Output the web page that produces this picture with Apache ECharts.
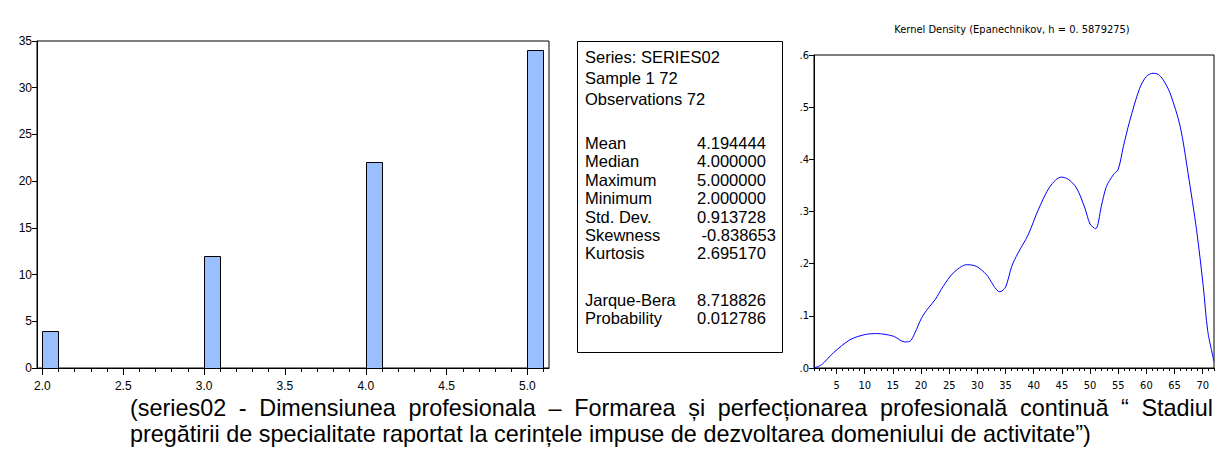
<!DOCTYPE html>
<html>
<head>
<meta charset="utf-8">
<script src="https://cdn.jsdelivr.net/npm/echarts@6/dist/echarts.min.js"></script>
<style>
html,body{margin:0;padding:0;background:#fff;}
#chart{width:1226px;height:454px;}
</style>
</head>
<body>
<div id="chart"></div>
<script>
// ---------- data ----------
const histBinStarts = [2.0, 3.0, 4.0, 5.0];
const histCounts = [4, 12, 22, 34];
const histBinWidth = 0.1;
const histXTicks = [2.0, 2.5, 3.0, 3.5, 4.0, 4.5, 5.0];
const histXMinorTicks = [2.0,2.1,2.2,2.3,2.4,2.5,2.6,2.7,2.8,2.9,3.0,3.1,3.2,3.3,3.4,3.5,3.6,3.7,3.8,3.9,4.0,4.1,4.2,4.3,4.4,4.5,4.6,4.7,4.8,4.9,5.0,5.1];

const statsHeader = ['Series: SERIES02', 'Sample 1 72', 'Observations 72'];
const statsNames = ['Mean', 'Median', 'Maximum', 'Minimum', 'Std. Dev.', 'Skewness', 'Kurtosis'];
const statsValues = ['4.194444', '4.000000', '5.000000', '2.000000', '0.913728', ' -0.838653', '2.695170'];
const testNames = ['Jarque-Bera', 'Probability'];
const testValues = ['8.718826', '0.012786'];

const densityTitle = 'Kernel Density (Epanechnikov, h = 0. 5879275)';
const densityX = [1, 2.36, 4.43, 7.38, 10.0, 12.1, 15.07, 17.1, 18.0, 18.9, 20.1, 21.3, 22.5, 23.9, 25.7, 28.1, 29.8, 31.6, 34.0, 35.0, 36.1, 37.2, 39.0, 40.8, 42.9, 44.9, 46.1, 47.6, 49.1, 50.0, 51.0, 52.0, 52.9, 54.1, 55.0, 55.9, 57.0, 58.8, 60.0, 61.2, 62.1, 63.0, 64.2, 66.0, 67.4, 68.9, 70.1, 70.9, 72];
const densityY = [0, 0.0064, 0.029, 0.054, 0.064, 0.066, 0.061, 0.050, 0.051, 0.067, 0.096, 0.115, 0.131, 0.156, 0.182, 0.198, 0.195, 0.179, 0.146, 0.155, 0.195, 0.220, 0.255, 0.303, 0.348, 0.366, 0.362, 0.345, 0.306, 0.276, 0.267, 0.310, 0.348, 0.370, 0.381, 0.424, 0.472, 0.536, 0.559, 0.565, 0.563, 0.552, 0.527, 0.463, 0.373, 0.265, 0.156, 0.070, 0.013];
const densityXTicks = [5, 10, 15, 20, 25, 30, 35, 40, 45, 50, 55, 60, 65, 70];
const densityXMinorTicks = [];
for (let i = 1; i <= 72; i++) densityXMinorTicks.push(i);

const captionLines = [
  '(series02 - Dimensiunea profesionala \u2013 Formarea \u0219i perfec\u021bionarea profesional\u0103 continu\u0103 \u201c Stadiul',
  'preg\u0103tirii de specialitate raportat la cerin\u021bele impuse de dezvoltarea domeniului de activitate\u201d)'
];

// ---------- chart ----------
const NARROW = '"Liberation Sans Narrow", "Arial Narrow", "DejaVu Sans Condensed", sans-serif';
const ARIAL = '"Liberation Sans", Arial, sans-serif';
const BOX_FONT = '16.5px ' + ARIAL;
const CAP_FONT = '23.4px ' + ARIAL;

const chart = echarts.init(document.getElementById('chart'), null, {renderer: 'svg'});

const graphics = [];
// stats box
graphics.push({type: 'rect', shape: {x: 577.5, y: 41.5, width: 205, height: 311}, style: {fill: '#fff', stroke: '#000', lineWidth: 1}, z: 10});
const boxTextLeft = 585, boxValLeft = 697;
statsHeader.forEach((t, i) => {
  graphics.push({type: 'text', x: boxTextLeft, y: 57 + i * 21, style: {text: t, font: BOX_FONT, fill: '#000', textVerticalAlign: 'middle'}, z: 11});
});
statsNames.forEach((t, i) => {
  graphics.push({type: 'text', x: boxTextLeft, y: 143 + i * 18.4, style: {text: t, font: BOX_FONT, fill: '#000', textVerticalAlign: 'middle'}, z: 11});
  graphics.push({type: 'text', x: boxValLeft, y: 143 + i * 18.4, style: {text: statsValues[i], font: BOX_FONT, fill: '#000', textVerticalAlign: 'middle'}, z: 11});
});
testNames.forEach((t, i) => {
  graphics.push({type: 'text', x: boxTextLeft, y: 300 + i * 18.4, style: {text: t, font: BOX_FONT, fill: '#000', textVerticalAlign: 'middle'}, z: 11});
  graphics.push({type: 'text', x: boxValLeft, y: 300 + i * 18.4, style: {text: testValues[i], font: BOX_FONT, fill: '#000', textVerticalAlign: 'middle'}, z: 11});
});
// density title
graphics.push({type: 'text', x: 1012, y: 29, style: {text: densityTitle, font: '11px ' + NARROW, fill: '#000', textAlign: 'center', textVerticalAlign: 'middle'}});

// caption: first line justified across the text block, second (last) line left-aligned
const capLeft = 130, capRight = 1213;
const measureCtx = document.createElement('canvas').getContext('2d');
measureCtx.font = CAP_FONT;
const words = captionLines[0].split(' ');
const wordW = words.map(w => measureCtx.measureText(w).width);
const gap = (capRight - capLeft - wordW.reduce((a, b) => a + b, 0)) / (words.length - 1);
let cx = capLeft;
words.forEach((w, i) => {
  graphics.push({type: 'text', x: cx, y: 408, style: {text: w, font: CAP_FONT, fill: '#000', textAlign: 'left', textVerticalAlign: 'middle'}});
  cx += wordW[i] + gap;
});
graphics.push({type: 'text', x: capLeft, y: 434, style: {text: captionLines[1], font: CAP_FONT, fill: '#000', textAlign: 'left', textVerticalAlign: 'middle'}});

const option = {
  animation: false,
  backgroundColor: '#fff',
  grid: [
    {left: 37, top: 41, width: 512, height: 327, show: true, borderColor: '#000', borderWidth: 1, backgroundColor: 'transparent'},
    {left: 814, top: 55, width: 400, height: 313, show: true, borderColor: '#000', borderWidth: 1, backgroundColor: 'transparent'}
  ],
  xAxis: [
    {gridIndex: 0, type: 'value', min: 1.9667, max: 5.1333,
      axisLine: {show: true, lineStyle: {color: '#000', width: 1}},
      axisTick: {show: true, length: 7, lineStyle: {color: '#000'}, customValues: histXTicks},
      axisLabel: {customValues: histXTicks, formatter: v => v.toFixed(1), color: '#000', fontSize: 12, fontFamily: ARIAL, margin: 12},
      splitLine: {show: false}},
    {gridIndex: 0, type: 'value', min: 1.9667, max: 5.1333, position: 'bottom',
      axisLine: {show: false},
      axisTick: {show: true, length: 4, lineStyle: {color: '#000'}, customValues: histXMinorTicks},
      axisLabel: {show: false}, splitLine: {show: false}},
    {gridIndex: 1, type: 'value', min: 1, max: 72,
      axisLine: {show: true, lineStyle: {color: '#000', width: 1}},
      axisTick: {show: true, length: 6, lineStyle: {color: '#000'}, customValues: densityXTicks},
      axisLabel: {customValues: densityXTicks, color: '#000', fontSize: 11, fontFamily: NARROW, margin: 12},
      splitLine: {show: false}},
    {gridIndex: 1, type: 'value', min: 1, max: 72, position: 'bottom',
      axisLine: {show: false},
      axisTick: {show: true, length: 3, lineStyle: {color: '#000'}, customValues: densityXMinorTicks},
      axisLabel: {show: false}, splitLine: {show: false}}
  ],
  yAxis: [
    {gridIndex: 0, type: 'value', min: 0, max: 35, interval: 5,
      axisLine: {show: true, lineStyle: {color: '#000', width: 1}},
      axisTick: {show: true, length: 5, lineStyle: {color: '#000'}},
      axisLabel: {color: '#000', fontSize: 12, fontFamily: ARIAL, margin: 5},
      splitLine: {show: false}},
    {gridIndex: 1, type: 'value', min: 0, max: 0.6, interval: 0.1,
      axisLine: {show: true, lineStyle: {color: '#000', width: 1}},
      axisTick: {show: true, length: 5, lineStyle: {color: '#000'}},
      axisLabel: {color: '#000', fontSize: 11, fontFamily: NARROW, margin: 5, formatter: v => v.toFixed(1).replace(/^0/, '')},
      splitLine: {show: false}}
  ],
  series: [
    {type: 'custom', xAxisIndex: 0, yAxisIndex: 0,
      data: histBinStarts.map((x, i) => [x, histCounts[i]]),
      encode: {x: 0, y: 1},
      renderItem: function (params, api) {
        const x0 = api.value(0), h = api.value(1);
        const p0 = api.coord([x0, 0]);
        const p1 = api.coord([x0 + histBinWidth, h]);
        return {type: 'rect',
          shape: {x: Math.round(p0[0]) + 0.5, y: Math.round(p1[1]) + 0.5, width: Math.round(p1[0] - p0[0]), height: Math.round(p0[1] - p1[1])},
          style: {fill: '#99BFFF', stroke: '#000', lineWidth: 1}};
      }},
    {type: 'line', xAxisIndex: 2, yAxisIndex: 1,
      data: densityX.map((x, i) => [x, densityY[i]]),
      showSymbol: false, smooth: 0.3,
      lineStyle: {color: '#0000FF', width: 1}, itemStyle: {color: '#0000FF'}}
  ],
  graphic: graphics
};
chart.setOption(option);
</script>
</body>
</html>
